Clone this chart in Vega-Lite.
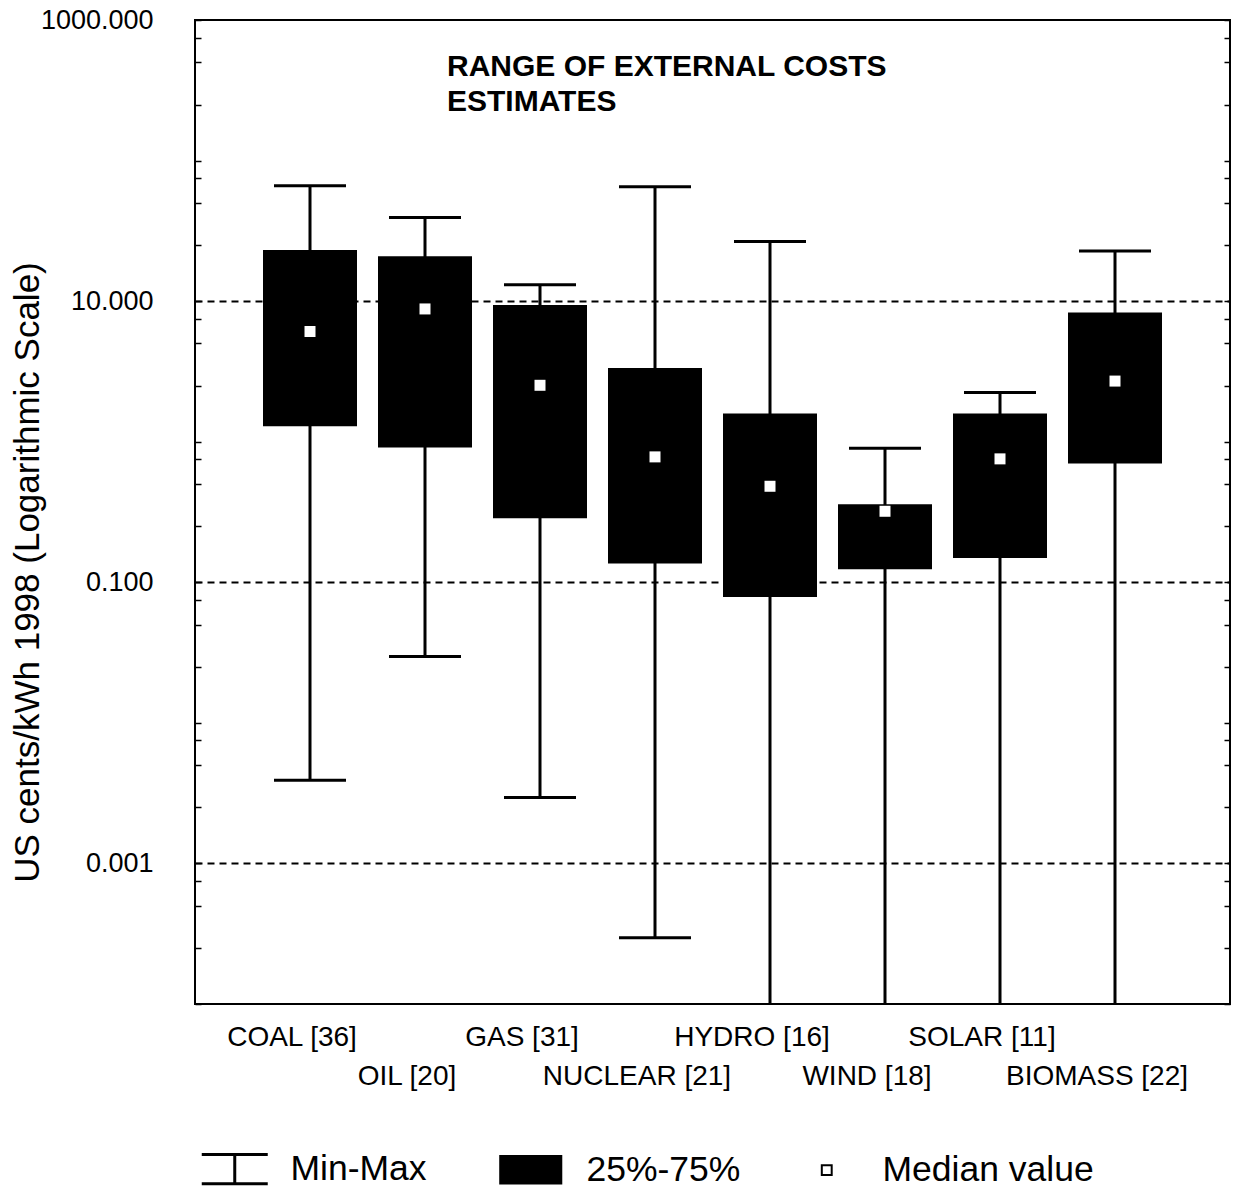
{
  "$schema": "https://vega.github.io/schema/vega-lite/v6.json",
  "width": 1035,
  "height": 984,
  "autosize": "none",
  "padding": {"left": 195, "top": 20, "right": 6, "bottom": 187},
  "background": "white",
  "config": {
    "font": "Liberation Sans",
    "view": {"stroke": "black", "strokeWidth": 2}
  },
  "title": {
    "text": ["RANGE OF EXTERNAL COSTS", "ESTIMATES"],
    "anchor": "start",
    "frame": "group",
    "dx": 252,
    "dy": 141,
    "offset": 0,
    "fontSize": 30,
    "fontWeight": "bold",
    "lineHeight": 35,
    "baseline": "bottom",
    "color": "black"
  },
  "datasets": {
    "boxes": [
      {"source": "COAL [36]", "min": 0.0039, "q1": 1.29, "median": 6.08, "q3": 23.1, "max": 66.2},
      {"source": "OIL [20]", "min": 0.0297, "q1": 0.91, "median": 8.8, "q3": 20.9, "max": 39.4},
      {"source": "GAS [31]", "min": 0.00294, "q1": 0.286, "median": 2.52, "q3": 9.37, "max": 13.1},
      {"source": "NUCLEAR [21]", "min": 0.000296, "q1": 0.136, "median": 0.78, "q3": 3.35, "max": 65.1},
      {"source": "HYDRO [16]", "min": 0.0001, "q1": 0.0785, "median": 0.482, "q3": 1.59, "max": 26.6},
      {"source": "WIND [18]", "min": 0.0001, "q1": 0.124, "median": 0.32, "q3": 0.359, "max": 0.9},
      {"source": "SOLAR [11]", "min": 0.0001, "q1": 0.149, "median": 0.755, "q3": 1.59, "max": 2.24},
      {"source": "BIOMASS [22]", "min": 0.0001, "q1": 0.7, "median": 2.7, "q3": 8.31, "max": 22.7}
    ],
    "legend": [
      {"key": "Min-Max"},
      {"key": "25%-75%"},
      {"key": "Median value"}
    ]
  },
  "layer": [
    {
      "data": {"name": "boxes"},
      "mark": {"type": "rule", "strokeWidth": 3, "color": "black"},
      "encoding": {
        "x": {
          "field": "source", "type": "nominal", "sort": null,
          "scale": {"type": "band", "paddingInner": 0.2, "paddingOuter": 0.6},
          "axis": {
            "title": null, "orient": "bottom", "ticks": false, "tickSize": 0, "domain": false,
            "labelAngle": 0, "labelFontSize": 28, "labelColor": "black", "labelBaseline": "top",
            "labelPadding": 19, "labelLineHeight": 39, "labelOffset": -18, "labelLimit": 0,
            "labelOverlap": false, "labelBound": false,
            "labelExpr": "indexof(['OIL [20]','NUCLEAR [21]','WIND [18]','BIOMASS [22]'], datum.value) >= 0 ? ['', datum.label] : datum.label"
          }
        },
        "y": {
          "field": "min", "type": "quantitative",
          "scale": {"type": "log", "domain": [0.0001, 1000], "nice": false},
          "axis": {
            "title": "US cents/kWh 1998 (Logarithmic Scale)",
            "titleFontSize": 35, "titleFontWeight": "normal", "titleColor": "black",
            "titleX": -168, "titleY": 552, "titleAngle": 270, "titleBaseline": "middle", "titleAlign": "center",
            "values": [0.0001, 0.00025, 0.0005, 0.00075, 0.001, 0.0025, 0.005, 0.0075, 0.01, 0.025, 0.05, 0.075, 0.1, 0.25, 0.5, 0.75, 1, 2.5, 5, 7.5, 10, 25, 50, 75, 100, 250, 500, 750, 1000],
            "labelExpr": "datum.value === 1000 || datum.value === 10 || datum.value === 0.1 || datum.value === 0.001 ? format(datum.value, '.3f') : ''",
            "labelFontSize": 27, "labelColor": "black", "labelPadding": 48,
            "labelOverlap": false, "labelFlush": false, "labelBound": false,
            "tickSize": -6, "tickColor": "black", "tickWidth": 1.5,
            "domain": false,
            "grid": true, "gridColor": "black", "gridWidth": 2, "gridDash": [7, 5],
            "gridOpacity": {"condition": {"test": "datum.value === 10 || datum.value === 0.1 || datum.value === 0.001", "value": 1}, "value": 0}
          }
        },
        "y2": {"field": "max"}
      }
    },
    {
      "data": {"name": "boxes"},
      "transform": [{"filter": "datum.min > 0.0001"}],
      "mark": {"type": "tick", "size": 72, "thickness": 3, "color": "black", "opacity": 1},
      "encoding": {
        "x": {"field": "source", "type": "nominal", "sort": null},
        "y": {"field": "min", "type": "quantitative", "scale": {"type": "log", "domain": [0.0001, 1000], "nice": false}, "axis": null}
      }
    },
    {
      "data": {"name": "boxes"},
      "mark": {"type": "tick", "size": 72, "thickness": 3, "color": "black", "opacity": 1},
      "encoding": {
        "x": {"field": "source", "type": "nominal", "sort": null},
        "y": {
          "field": "max", "type": "quantitative",
          "scale": {"type": "log", "domain": [0.0001, 1000], "nice": false},
          "axis": {
            "orient": "right", "title": null, "labels": false, "domain": false, "grid": false,
            "values": [0.0001, 0.00025, 0.0005, 0.00075, 0.001, 0.0025, 0.005, 0.0075, 0.01, 0.025, 0.05, 0.075, 0.1, 0.25, 0.5, 0.75, 1, 2.5, 5, 7.5, 10, 25, 50, 75, 100, 250, 500, 750, 1000],
            "tickSize": -6, "tickColor": "black", "tickWidth": 1.5
          }
        }
      }
    },
    {
      "data": {"name": "boxes"},
      "mark": {"type": "bar", "width": 94, "color": "black"},
      "encoding": {
        "x": {"field": "source", "type": "nominal", "sort": null},
        "y": {"field": "q1", "type": "quantitative", "scale": {"type": "log", "domain": [0.0001, 1000], "nice": false}, "axis": null},
        "y2": {"field": "q3"}
      }
    },
    {
      "data": {"name": "boxes"},
      "mark": {"type": "point", "shape": "square", "filled": true, "color": "white", "size": 121, "opacity": 1, "strokeWidth": 0},
      "encoding": {
        "x": {"field": "source", "type": "nominal", "sort": null},
        "y": {"field": "median", "type": "quantitative", "scale": {"type": "log", "domain": [0.0001, 1000], "nice": false}, "axis": null}
      }
    },
    {
      "data": {"name": "legend"},
      "mark": {"type": "point", "opacity": 0, "filled": true, "stroke": "black", "strokeWidth": 3},
      "encoding": {
        "shape": {
          "field": "key", "type": "nominal", "sort": null,
          "scale": {
            "domain": ["Min-Max", "25%-75%", "Median value"],
            "range": ["M-1,-0.44H1M0,-0.44V0.44M-1,0.44H1", "M-0.91,-0.4H0.91V0.4H-0.91Z", "M-0.15,-0.15H0.15V0.15H-0.15Z"]
          },
          "legend": {
            "title": null, "orient": "none", "legendX": 22, "legendY": 1131,
            "direction": "horizontal", "columns": 3, "gridAlign": "all", "columnPadding": -8, "padding": 0,
            "symbolSize": 4356, "symbolStrokeWidth": 3, "symbolStrokeColor": "black", "symbolOpacity": 1,
            "labelFontSize": 35.5, "labelColor": "black", "labelOffset": 38, "labelLimit": 0,
            "encode": {
              "symbols": {
                "update": {
                  "stroke": {"value": "black"},
                  "strokeWidth": {"signal": "datum.value === 'Median value' ? 2 : 3"},
                  "opacity": {"value": 1},
                  "fillOpacity": {"value": 1},
                  "strokeOpacity": {"value": 1}
                }
              }
            }
          }
        },
        "fill": {
          "field": "key", "type": "nominal", "sort": null,
          "scale": {
            "domain": ["Min-Max", "25%-75%", "Median value"],
            "range": ["white", "black", "white"]
          },
          "legend": {
            "title": null, "orient": "none", "legendX": 22, "legendY": 1131,
            "direction": "horizontal", "columns": 3, "gridAlign": "all", "columnPadding": -8, "padding": 0,
            "symbolSize": 4356, "symbolStrokeWidth": 3, "symbolStrokeColor": "black", "symbolOpacity": 1,
            "labelFontSize": 35.5, "labelColor": "black", "labelOffset": 38, "labelLimit": 0,
            "encode": {
              "symbols": {
                "update": {
                  "stroke": {"value": "black"},
                  "strokeWidth": {"signal": "datum.value === 'Median value' ? 2 : 3"},
                  "opacity": {"value": 1},
                  "fillOpacity": {"value": 1},
                  "strokeOpacity": {"value": 1}
                }
              }
            }
          }
        }
      }
    }
  ],
  "resolve": {"axis": {"y": "independent"}}
}
